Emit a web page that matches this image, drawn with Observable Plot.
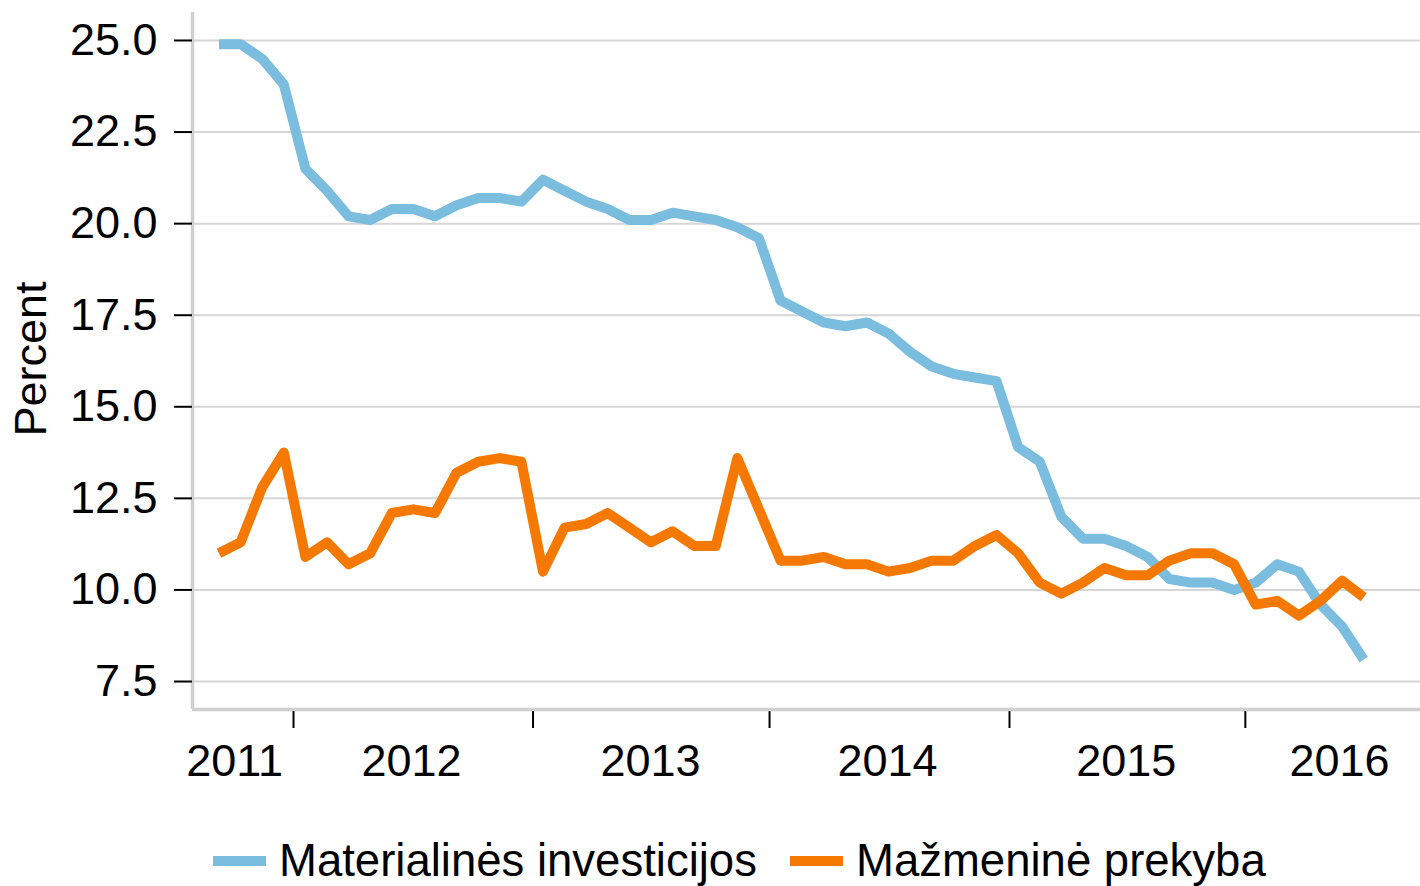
<!DOCTYPE html>
<html>
<head>
<meta charset="utf-8">
<script src="https://cdn.jsdelivr.net/npm/d3@7"></script>
<script src="https://cdn.jsdelivr.net/npm/@observablehq/plot@0.6"></script>
<style>
  html, body { margin: 0; padding: 0; background: #fff; }
  body { width: 1420px; height: 886px; overflow: hidden; font-family: "Liberation Sans", Arial, sans-serif; }
  #legend { position: relative; height: 50px; font-size: 45.5px; color: #000; }
  .item { position: absolute; top: 0; height: 50px; display: flex; align-items: center; white-space: nowrap; }
  .sw { width: 53px; height: 10px; margin-right: 13px; }
</style>
</head>
<body>
<div id="chart"></div>
<div id="legend"></div>
<script>
// Series (index = observation number along the time axis)
const seriesNames = ["Materialinės investicijos", "Mažmeninė prekyba"];
const materialines = [24.9, 24.9, 24.5, 23.8, 21.5, 20.9, 20.2, 20.1, 20.4, 20.4, 20.2, 20.5, 20.7, 20.7, 20.6,
  21.2, 20.9, 20.6, 20.4, 20.1, 20.1, 20.3, 20.2, 20.1, 19.9, 19.6, 17.9, 17.6, 17.3, 17.2, 17.3, 17.0,
  16.5, 16.1, 15.9, 15.8, 15.7, 13.9, 13.5, 12.0, 11.4, 11.4, 11.2, 10.9, 10.3, 10.2, 10.2, 10.0, 10.2,
  10.7, 10.5, 9.6, 9.0, 8.1];
const mazmenine = [11.0, 11.3, 12.8, 13.75, 10.9, 11.3, 10.7, 11.0, 12.1, 12.2, 12.1, 13.2, 13.5, 13.6, 13.5,
  10.5, 11.7, 11.8, 12.1, 11.7, 11.3, 11.6, 11.2, 11.2, 13.6, 12.2, 10.8, 10.8, 10.9, 10.7, 10.7, 10.5,
  10.6, 10.8, 10.8, 11.2, 11.5, 11.0, 10.2, 9.9, 10.2, 10.6, 10.4, 10.4, 10.8, 11.0, 11.0, 10.7, 9.6,
  9.7, 9.3, 9.7, 10.25, 9.8];
const years = ["2011", "2012", "2013", "2014", "2015", "2016"];
const yearLabelAt = [0.72, 8.91, 19.98, 30.95, 42.01, 51.88];   // observation index at label centre
const yearStarts = [3.45, 14.54, 25.49, 36.6, 47.52];           // observation index at year boundaries
const yTicks = [7.5, 10.0, 12.5, 15.0, 17.5, 20.0, 22.5, 25.0];
const colors = ["#7bbddf", "#f57900"];

const xDomain = [-1.227, 55.63];
const yDomain = [6.736, 25.764];

const data = [];
materialines.forEach((v, i) => data.push({i, v, s: seriesNames[0]}));
mazmenine.forEach((v, i) => data.push({i, v, s: seriesNames[1]}));

const FS = 45;
const chart = Plot.plot({
  width: 1420,
  height: 836,
  marginLeft: 192,
  marginRight: 0,
  marginTop: 12,
  marginBottom: 127,
  style: {fontFamily: '"Liberation Sans", Arial, sans-serif', color: "#000", background: "#fff", overflow: "visible"},
  x: {domain: xDomain, axis: null},
  y: {domain: yDomain, axis: null},
  color: {domain: seriesNames, range: colors},
  marks: [
    Plot.gridY(yTicks, {stroke: "#d6d6d6", strokeOpacity: 1, strokeWidth: 2}),
    Plot.ruleX([xDomain[0]], {stroke: "#d0d0d0", strokeWidth: 3.5}),
    Plot.ruleY([yDomain[0]], {stroke: "#d0d0d0", strokeWidth: 3.5}),
    Plot.axisY(yTicks, {label: null, tickSize: 18, tickPadding: 17, tickFormat: d => d.toFixed(1), fontSize: FS, stroke: "#000", strokeWidth: 2}),
    Plot.axisX(yearStarts, {label: null, tickSize: 17, tickFormat: () => "", stroke: "#000", strokeWidth: 2, dy: 2}),
    Plot.text(yearLabelAt, {x: d => d, text: (d, i) => years[i], frameAnchor: "bottom", dy: 52, fontSize: FS, fill: "#000", lineAnchor: "middle"}),
    Plot.text(["Percent"], {frameAnchor: "left", dx: -161, dy: -2, rotate: -90, textAnchor: "middle", fontSize: FS, fill: "#000", lineAnchor: "middle"}),
    Plot.line(data, {x: "i", y: "v", z: "s", stroke: "s", strokeWidth: 10, strokeLinejoin: "round", strokeLinecap: "butt"})
  ]
});
document.getElementById("chart").appendChild(chart);

const legend = document.getElementById("legend");
const legendX = [213, 790];
seriesNames.forEach((name, k) => {
  const item = document.createElement("div");
  item.className = "item";
  item.style.left = legendX[k] + "px";
  const sw = document.createElement("span");
  sw.className = "sw";
  sw.style.background = colors[k];
  const label = document.createElement("span");
  label.textContent = name;
  item.appendChild(sw);
  item.appendChild(label);
  legend.appendChild(item);
});
</script>
</body>
</html>
